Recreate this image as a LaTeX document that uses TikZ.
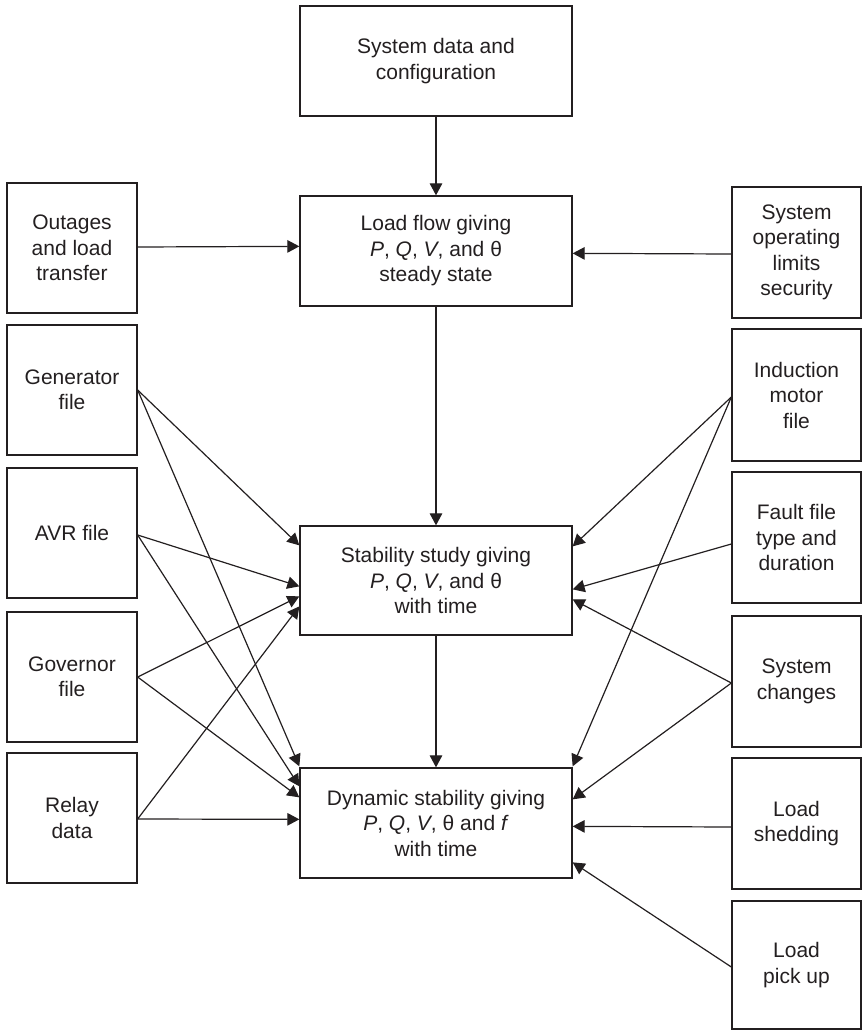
\documentclass[tikz,border=0pt]{standalone}
\usepackage{fontspec}
\setmainfont{Liberation Sans}
\usetikzlibrary{arrows.meta,calc}
\definecolor{ink}{RGB}{35,31,32}
\begin{document}
\begin{tikzpicture}[x=1pt,y=-1pt,
  box/.style={draw=ink,line width=1.3pt,rectangle,align=center,inner sep=0pt,
    font=\fontsize{21}{25.5}\selectfont,text=ink},
  side/.style={box,minimum width=130pt,minimum height=130pt},
  mid/.style={box,minimum width=272pt,minimum height=110pt},
  arr/.style={draw=ink,line width=1.2pt,-{Triangle[length=12pt,width=12.5pt]}}]
\useasboundingbox (0,0) rectangle (863,1031);
% central column
\node[mid] (top) at (436,61) {System data and\\configuration};
\node[mid] (lf) at (436,251) {Load flow giving\\\textit{P}, \textit{Q}, \textit{V}, and θ\\steady state};
\node[mid,minimum height=109pt] (st) at (436,580.5) {Stability study giving\\\textit{P}, \textit{Q}, \textit{V}, and θ\\with time};
\node[mid] (dy) at (436,823) {Dynamic stability giving\\\textit{P}, \textit{Q}, \textit{V}, θ and \textit{f}\\with time};
% left column
\node[side] (out) at (72,248) {Outages\\and load\\transfer};
\node[side] (gen) at (72,390) {Generator\\file};
\node[side] (avr) at (72,533) {AVR file};
\node[side] (gov) at (72,677) {Governor\\file};
\node[side] (rel) at (72,818) {Relay\\data};
% right column
\node[side,minimum width=129pt,minimum height=131pt] (lim) at (796.5,252.5) {System\\operating\\limits\\security};
\node[side,minimum width=129pt,minimum height=132pt] (ind) at (796.5,395) {Induction\\motor\\file};
\node[side,minimum width=129pt,minimum height=131pt] (flt) at (796.5,537.5) {Fault file\\type and\\duration};
\node[side,minimum width=129pt,minimum height=131pt] (chg) at (796.5,681.5) {System\\changes};
\node[side,minimum width=129pt,minimum height=131pt] (shd) at (796.5,823.5) {Load\\shedding};
\node[side,minimum width=129pt,minimum height=128pt] (pku) at (796.5,965) {Load\\pick up};
% endpoint coordinates
\coordinate (lfL) at ($(lf.north west)+(0,51)$);
\coordinate (lfR) at ($(lf.north east)+(0,58)$);
\coordinate (stL1) at ($(st.north west)+(0,20)$);
\coordinate (stL2) at ($(st.north west)+(0,61)$);
\coordinate (stL3) at ($(st.north west)+(0,71)$);
\coordinate (stL4) at ($(st.north west)+(0,81)$);
\coordinate (stR1) at ($(st.north east)+(0,21)$);
\coordinate (stR2) at ($(st.north east)+(0,64)$);
\coordinate (stR3) at ($(st.north east)+(0,74)$);
\coordinate (dyL1) at ($(dy.north west)+(0,-1)$);
\coordinate (dyL2) at ($(dy.north west)+(0,19)$);
\coordinate (dyL3) at ($(dy.north west)+(0,30)$);
\coordinate (dyL4) at ($(dy.north west)+(0,52)$);
\coordinate (dyR1) at ($(dy.north east)+(0,-1)$);
\coordinate (dyR2) at ($(dy.north east)+(0,32)$);
\coordinate (dyR3) at ($(dy.north east)+(0,59)$);
\coordinate (dyR4) at ($(dy.north east)+(0,95)$);
\coordinate (shdW) at ($(shd.west)+(0,3.5)$);
\coordinate (pkuW) at ($(pku.west)+(0,2)$);
\coordinate (indW) at ($(ind.west)+(0,2)$);
\coordinate (fltW) at ($(flt.west)+(0,6.5)$);
\coordinate (chgW) at ($(chg.west)+(0,1.5)$);
\coordinate (limW) at ($(lim.west)+(0,1.5)$);
\coordinate (outE) at ($(out.east)+(0,-1)$);
\coordinate (avrE) at ($(avr.east)+(0,2)$);
\coordinate (relE) at ($(rel.east)+(0,1)$);
% vertical flow
\draw[arr] (top.south) -- (lf.north);
\draw[arr] (lf.south) -- (st.north);
\draw[arr] (st.south) -- (dy.north);
% into load flow
\draw[arr] (outE) -- (lfL);
\draw[arr] (limW) -- (lfR);
% left inputs
\draw[arr] (gen.east) -- (stL1);
\draw[arr] (gen.east) -- (dyL1);
\draw[arr] (avrE) -- (stL2);
\draw[arr] (avrE) -- (dyL2);
\draw[arr] (gov.east) -- (stL3);
\draw[arr] (gov.east) -- (dyL3);
\draw[arr] (relE) -- (stL4);
\draw[arr] (relE) -- (dyL4);
% right inputs
\draw[arr] (indW) -- (stR1);
\draw[arr] (indW) -- (dyR1);
\draw[arr] (fltW) -- (stR2);
\draw[arr] (chgW) -- (stR3);
\draw[arr] (chgW) -- (dyR2);
\draw[arr] (shdW) -- (dyR3);
\draw[arr] (pkuW) -- (dyR4);
\end{tikzpicture}
\end{document}
